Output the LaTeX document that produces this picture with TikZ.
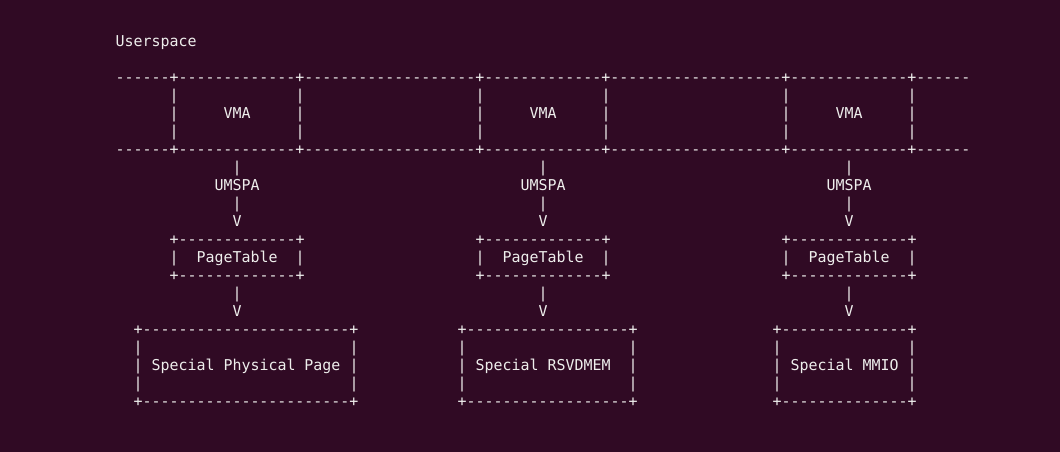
\documentclass[tikz,border=0pt]{standalone}
\usepackage{fontspec}
\newfontfamily\term{DejaVu Sans Mono}
\definecolor{bg}{HTML}{300A24}
\definecolor{fg}{HTML}{EEEEEC}
\newcommand\dashes[1]{\foreach\di in {1,...,#1}{-\kern0pt}}
\tikzset{asc/.style={inner sep=0pt, outer sep=0pt, anchor=base west, text=fg,
  font=\term\fontsize{14.95}{18}\selectfont}}
\newcommand\T[4]{\node[asc] (#1) at ({115.5+9*#2},{-46.5-18*#3}) {#4};}
\begin{document}
\begin{tikzpicture}[x=1pt,y=1pt]
\fill[bg] (0,0) rectangle (1060,-452);
\useasboundingbox (0,0) rectangle (1060,-452);
\T{userspace}{0}{0}{Userspace}
\T{vmatop}{0}{2}{\dashes{6}+\dashes{13}+\dashes{19}+\dashes{13}+\dashes{19}+\dashes{13}+\dashes{6}}
\T{vmabot}{0}{6}{\dashes{6}+\dashes{13}+\dashes{19}+\dashes{13}+\dashes{19}+\dashes{13}+\dashes{6}}
\foreach \k/\lc/\cc/\bc/\nd/\txt in {1/6/13/2/23/{Special Physical Page},
    2/40/47/38/18/{Special RSVDMEM},
    3/74/81/73/14/{Special MMIO}}{
  % VMA box sides
  \foreach \r in {3,4,5}{
    \T{vmal\k-\r}{\lc}{\r}{|}
    \T{vmar\k-\r}{(\lc+14)}{\r}{|}
  }
  \T{vma\k}{(\lc+6)}{4}{VMA}
  % UMSPA arrow
  \T{ua\k}{\cc}{7}{|}
  \T{umspa\k}{(\cc-2)}{8}{UMSPA}
  \T{ub\k}{\cc}{9}{|}
  \T{uv\k}{\cc}{10}{V}
  % PageTable box
  \T{ptt\k}{\lc}{11}{+\dashes{13}+}
  \T{ptl\k}{\lc}{12}{|}
  \T{pt\k}{(\lc+3)}{12}{PageTable}
  \T{ptr\k}{(\lc+14)}{12}{|}
  \T{ptb\k}{\lc}{13}{+\dashes{13}+}
  % arrow to page
  \T{pa\k}{\cc}{14}{|}
  \T{pv\k}{\cc}{15}{V}
  % bottom box
  \T{spt\k}{\bc}{16}{+\dashes{\nd}+}
  \foreach \r in {17,18,19}{
    \T{spl\k-\r}{\bc}{\r}{|}
    \T{spr\k-\r}{(\bc+\nd+1)}{\r}{|}
  }
  \T{sp\k}{(\bc+2)}{18}{\txt}
  \T{spb\k}{\bc}{20}{+\dashes{\nd}+}
}
\end{tikzpicture}
\end{document}
